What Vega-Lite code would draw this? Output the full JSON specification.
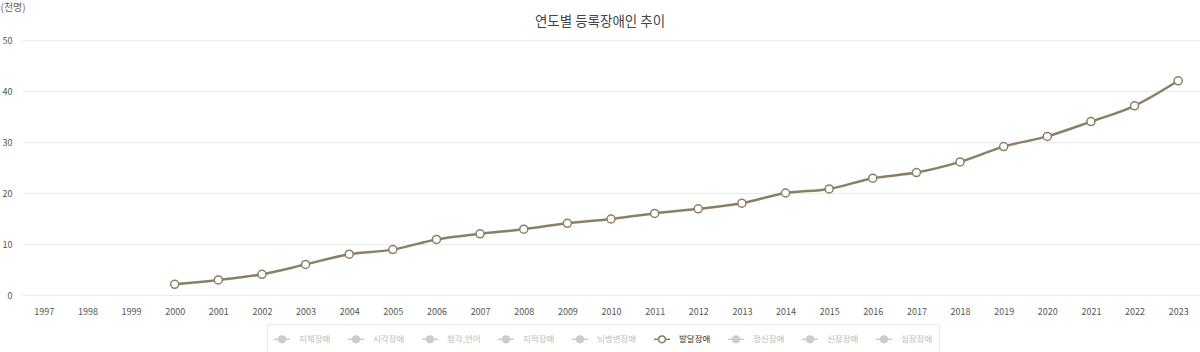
{
  "$schema": "https://vega.github.io/schema/vega-lite/v6.json",
  "width": 1178,
  "height": 255,
  "autosize": {"type": "none"},
  "padding": {"left": 22, "top": 40, "right": 0, "bottom": 57},
  "background": "white",
  "config": {"font": "Noto Sans CJK KR", "view": {"stroke": null}},
  "title": {"text": "연도별 등록장애인 추이", "fontSize": 13.5, "fontWeight": "normal", "color": "#444", "anchor": "middle", "dx": -11, "dy": 36, "offset": 10},
  "data": {"values": [
    {"year": "2000", "value": 2.1, "type": "발달장애"},
    {"year": "2001", "value": 2.95, "type": "발달장애"},
    {"year": "2002", "value": 4.05, "type": "발달장애"},
    {"year": "2003", "value": 6.0, "type": "발달장애"},
    {"year": "2004", "value": 8.0, "type": "발달장애"},
    {"year": "2005", "value": 8.9, "type": "발달장애"},
    {"year": "2006", "value": 10.9, "type": "발달장애"},
    {"year": "2007", "value": 12.0, "type": "발달장애"},
    {"year": "2008", "value": 12.9, "type": "발달장애"},
    {"year": "2009", "value": 14.05, "type": "발달장애"},
    {"year": "2010", "value": 14.9, "type": "발달장애"},
    {"year": "2011", "value": 16.0, "type": "발달장애"},
    {"year": "2012", "value": 16.9, "type": "발달장애"},
    {"year": "2013", "value": 18.0, "type": "발달장애"},
    {"year": "2014", "value": 20.0, "type": "발달장애"},
    {"year": "2015", "value": 20.8, "type": "발달장애"},
    {"year": "2016", "value": 22.9, "type": "발달장애"},
    {"year": "2017", "value": 24.0, "type": "발달장애"},
    {"year": "2018", "value": 26.1, "type": "발달장애"},
    {"year": "2019", "value": 29.1, "type": "발달장애"},
    {"year": "2020", "value": 31.1, "type": "발달장애"},
    {"year": "2021", "value": 34.0, "type": "발달장애"},
    {"year": "2022", "value": 37.1, "type": "발달장애"},
    {"year": "2023", "value": 42.0, "type": "발달장애"}
  ]},
  "mark": {"type": "line", "interpolate": "monotone", "strokeWidth": 2.5,
    "point": {"filled": false, "fill": "white", "size": 64, "strokeWidth": 1.5}},
  "encoding": {
    "x": {"field": "year", "type": "ordinal",
      "scale": {"type": "point", "padding": 0.5, "domain": ["1997","1998","1999","2000","2001","2002","2003","2004","2005","2006","2007","2008","2009","2010","2011","2012","2013","2014","2015","2016","2017","2018","2019","2020","2021","2022","2023"]},
      "axis": {"title": null, "labelAngle": 0, "labelFontSize": 9, "labelColor": "#555", "labelPadding": 12, "domain": false, "ticks": false, "grid": false}},
    "y": {"field": "value", "type": "quantitative",
      "scale": {"domain": [0, 50], "nice": false},
      "axis": {"values": [0, 10, 20, 30, 40, 50], "title": "(천명)", "titleAngle": 0, "titleAlign": "left", "titleBaseline": "top", "titleX": -22, "titleY": -38, "titleFontSize": 10, "titleFontWeight": "normal", "titleColor": "#666", "labelFontSize": 9, "labelColor": "#555", "labelPadding": 10, "domain": false, "ticks": false, "gridColor": "#ebebeb"}},
    "color": {"field": "type", "type": "nominal",
      "scale": {"domain": ["지체장애","시각장애","청각,언어","지적장애","뇌병변장애","발달장애","정신장애","신장장애","심장장애"],
        "range": ["#cccccc","#cccccc","#cccccc","#cccccc","#cccccc","#8c7f66","#cccccc","#cccccc","#cccccc"]},
      "legend": {"orient": "none", "legendX": 245, "legendY": 284, "direction": "horizontal", "title": null,
        "symbolType": "M-1,0L-0.42,0M0.42,0L1,0M0.42,0A0.42,0.42,0,1,1,-0.42,0A0.42,0.42,0,1,1,0.42,0",
        "symbolSize": 256, "symbolStrokeWidth": 1.5, "labelFontSize": 8.5, "labelColor": "#bbbbbb", "labelOffset": 8,
        "columnPadding": 14, "padding": 6, "strokeColor": "#e8e8e8",
        "encode": {
          "symbols": {"update": {
            "fill": {"signal": "datum.value === '발달장애' ? 'white' : '#cccccc'"},
            "stroke": {"signal": "datum.value === '발달장애' ? '#8c7f66' : '#cccccc'"},
            "opacity": {"value": 1}}},
          "labels": {"update": {"fill": {"signal": "datum.value === '발달장애' ? '#333333' : '#bbbbbb'"}}}
        }}}
  }
}
